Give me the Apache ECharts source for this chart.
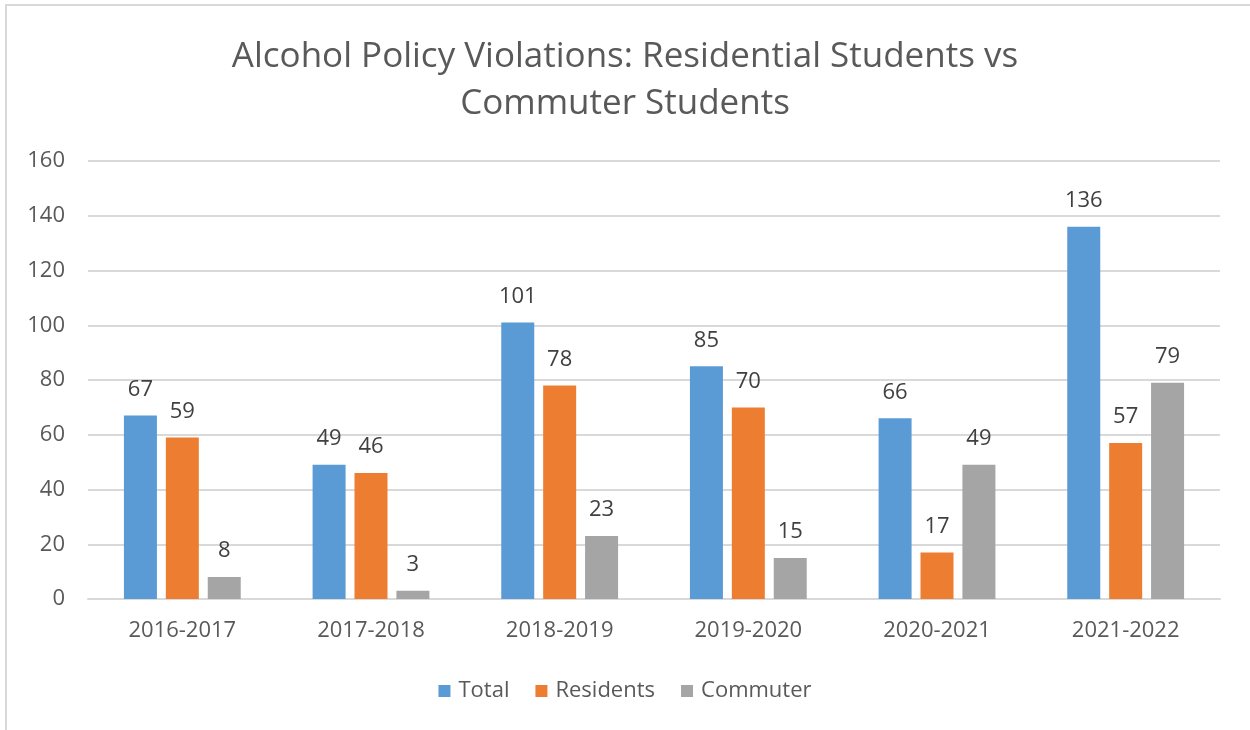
<!DOCTYPE html>
<html>
<head>
<meta charset="utf-8">
<script src="https://cdn.jsdelivr.net/npm/echarts@6/dist/echarts.min.js"></script>
<style>
  html, body { margin: 0; padding: 0; background: #fff; }
  #frame { position: absolute; left: 5px; top: 4px; width: 1250px; height: 730px;
           border-left: 2px solid #d9d9d9; border-top: 2px solid #d9d9d9; box-sizing: border-box; }
  #main { position: absolute; left: 0; top: 0; width: 1250px; height: 730px; }
</style>
</head>
<body>
<div id="frame"></div>
<div id="main"></div>
<script>
var years = ['2016-2017', '2017-2018', '2018-2019', '2019-2020', '2020-2021', '2021-2022']
var total = [67, 49, 101, 85, 66, 136]
var residents = [59, 46, 78, 70, 17, 57]
var commuter = [8, 3, 23, 15, 49, 79]

var myChart = echarts.init(document.getElementById('main'))
var font = '"Open Sans", sans-serif'
var labelStyle = { show: true, position: 'top', distance: 15, color: '#404040', fontSize: 22, fontFamily: font }

var option = {
  color: ['#5B9BD5', '#ED7D31', '#A5A5A5'],
  animation: false,
  title: {
    text: 'Alcohol Policy Violations: Residential Students vs\nCommuter Students',
    left: 'center',
    top: 29,
    textStyle: { color: '#595959', fontSize: 35, fontWeight: 'normal', fontFamily: font, lineHeight: 47 }
  },
  legend: {
    data: ['Total', 'Residents', 'Commuter'],
    bottom: 23,
    left: 'center',
    icon: 'rect',
    itemWidth: 12,
    itemHeight: 12,
    itemGap: 26,
    textStyle: { color: '#595959', fontSize: 22, fontFamily: font, padding: [0, 0, 0, 3] }
  },
  grid: { left: 88, right: 30, top: 161, bottom: 131, containLabel: false },
  xAxis: {
    type: 'category',
    data: years,
    axisLine: { lineStyle: { color: '#d9d9d9', width: 2 } },
    axisTick: { show: false },
    axisLabel: { color: '#595959', fontSize: 22, fontFamily: font, margin: 21 }
  },
  yAxis: {
    type: 'value',
    min: 0,
    max: 160,
    interval: 20,
    axisLine: { show: false },
    axisTick: { show: false },
    axisLabel: { color: '#595959', fontSize: 22, fontFamily: font, margin: 23 },
    splitLine: { lineStyle: { color: '#d9d9d9', width: 2 } }
  },
  series: [
    { name: 'Total', type: 'bar', data: total, barWidth: 33, barGap: '27%', label: labelStyle },
    { name: 'Residents', type: 'bar', data: residents, barWidth: 33, barGap: '27%', label: labelStyle },
    { name: 'Commuter', type: 'bar', data: commuter, barWidth: 33, barGap: '27%', label: labelStyle }
  ]
}
myChart.setOption(option)
</script>
</body>
</html>
